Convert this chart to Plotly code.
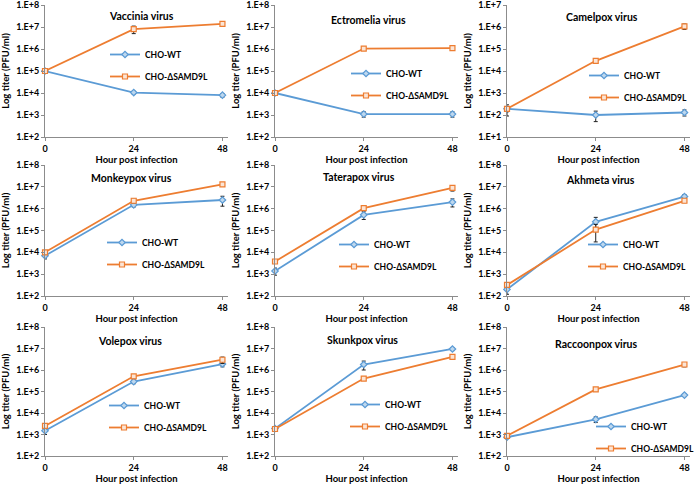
import plotly.graph_objects as go

hours = [0, 24, 48]

viruses = ["Vaccinia virus", "Ectromelia virus", "Camelpox virus",
           "Monkeypox virus", "Taterapox virus", "Akhmeta virus",
           "Volepox virus", "Skunkpox virus", "Raccoonpox virus"]

# titers (PFU/ml)
wt = [[1.0e5, 1.05e4, 8.0e3],
      [1.0e4, 1.1e3, 1.1e3],
      [1.9e2, 1.0e2, 1.3e2],
      [7.0e3, 1.5e6, 2.5e6],
      [1.4e3, 5.2e5, 2.0e6],
      [2.0e2, 2.5e5, 3.6e6],
      [1.5e3, 2.9e5, 1.9e6],
      [1.9e3, 1.8e6, 9.5e6],
      [7.5e2, 5.1e3, 6.8e4]]
ko = [[1.0e5, 8.0e6, 1.4e7],
      [1.0e4, 1.05e6, 1.1e6],
      [1.9e2, 2.9e4, 1.07e6],
      [1.0e4, 2.3e6, 1.3e7],
      [3.8e3, 1.05e6, 8.9e6],
      [3.2e2, 1.1e5, 2.3e6],
      [2.5e3, 5.1e5, 3.0e6],
      [1.8e3, 4.0e5, 4.1e6],
      [8.7e2, 1.25e5, 1.8e6]]
wt_err = [[5e3, 1.5e3, 1.5e3],
          [1e3, 3e2, 3e2],
          [1e2, 5e1, 4e1],
          [2e3, 3e5, 1.2e6],
          [5e2, 2e5, 8e5],
          [8e1, 1.5e5, 8e5],
          [5e2, 6e4, 5e5],
          [3e2, 8e5, 1.5e6],
          [1e2, 1.5e3, 1e4]]
ko_err = [[2e4, 3e6, 2e6],
          [1e3, 1e5, 1.5e5],
          [5e1, 5e3, 3e5],
          [2e3, 5e5, 1.5e6],
          [5e2, 2e5, 2.5e6],
          [5e1, 8e4, 4e5],
          [4e2, 1e5, 1e6],
          [3e2, 5e4, 5e5],
          [1e2, 2e4, 4e5]]
y_low = [2, 2, 1, 2, 2, 2, 2, 2, 2]

BLUE = "#5B9BD5"
ORANGE = "#ED7D31"
FONT = "Lato"

W, H = 696, 487
col_px = [(45, 228), (275, 458), (507, 690)]
row_px = [(5, 137), (165, 296), (327, 456)]
title_pos = [(0.53, 0.917), (0.51, 0.89), (0.52, 0.91),
             (0.475, 0.9), (0.46, 0.91), (0.51, 0.885),
             (0.464, 0.89), (0.48, 0.9), (0.49, 0.87)]
# (x where legend text starts, y of first legend row) in pixels
legend_px = [(150, 52), (391, 71), (629, 73),
             (147, 240), (379, 242), (628, 242),
             (149, 403), (390, 402), (636, 424)]

fig = go.Figure()
annotations = []
for i, name in enumerate(viruses):
    r, c = divmod(i, 3)
    sfx = "" if i == 0 else str(i + 1)
    xa, ya = "x" + sfx, "y" + sfx
    lg = "legend" + sfx
    for vals, err, lab, col, sym, fill in [
            (wt[i], wt_err[i], "CHO-WT", BLUE, "diamond", "#BDD7EE"),
            (ko[i], ko_err[i], "CHO-ΔSAMD9L", ORANGE, "square", "#FBE5D6")]:
        fig.add_trace(go.Scatter(
            x=hours, y=vals, mode="lines+markers", name=lab,
            xaxis=xa, yaxis=ya, legend=lg, legendgroup=lab + sfx,
            line=dict(color=col, width=1.8),
            marker=dict(symbol=sym, size=5, color=fill,
                        line=dict(color=col, width=1.2)),
            error_y=dict(type="data", array=err, color="#222222",
                         thickness=1, width=2),
            cliponaxis=False))
    x0, x1 = col_px[c]
    y0, y1 = row_px[r]
    axis_common = dict(showgrid=False, zeroline=False, showline=True,
                       linecolor="#8C8C8C", linewidth=1, ticks="outside",
                       ticklen=3, tickcolor="#8C8C8C",
                       ticklabeloverflow="allow",
                       tickfont=dict(family=FONT, size=9, color="black",
                                     weight="bold"))
    fig.layout["xaxis" + sfx] = dict(
        axis_common, domain=[x0 / W, x1 / W], anchor=ya,
        range=[0, 49.5], tickvals=hours, ticktext=[str(h) for h in hours],
        title=dict(text="Hour post infection", standoff=3,
                   font=dict(family=FONT, size=9.5, color="black",
                             weight="bold")))
    lo = y_low[i]
    dec = list(range(lo, lo + 7))
    fig.layout["yaxis" + sfx] = dict(
        axis_common, domain=[1 - y1 / H, 1 - y0 / H], anchor=xa,
        type="log", range=[lo, lo + 6],
        tickvals=[10 ** d for d in dec],
        ticktext=["1.E+%d" % d for d in dec],
        title=dict(text="Log titer (PFU/ml)", standoff=4,
                   font=dict(family=FONT, size=9.5, color="black",
                             weight="bold")))
    tx, ty = title_pos[i]
    annotations.append(dict(
        text=name, xref=xa + " domain", yref=ya + " domain", x=tx, y=ty,
        showarrow=False, xanchor="center", yanchor="middle",
        font=dict(family=FONT, size=10.5, color="black", weight="bold")))
    lx, ly = legend_px[i]
    fig.layout[lg] = dict(
        x=(lx - 45) / W, y=1 - (ly - 12) / H, xanchor="left", yanchor="top",
        bgcolor="rgba(0,0,0,0)", borderwidth=0, traceorder="grouped",
        tracegroupgap=3, itemwidth=30,
        font=dict(family=FONT, size=8.5, color="black", weight="bold"))

fig.update_layout(
    width=W, height=H, margin=dict(l=0, r=0, t=0, b=0, autoexpand=False),
    paper_bgcolor="white", plot_bgcolor="white",
    annotations=annotations, showlegend=True)

fig.write_html("out.html", config={"displayModeBar": False},
               post_script="document.body.style.margin='0';"
                           "document.body.style.overflow='hidden';")
